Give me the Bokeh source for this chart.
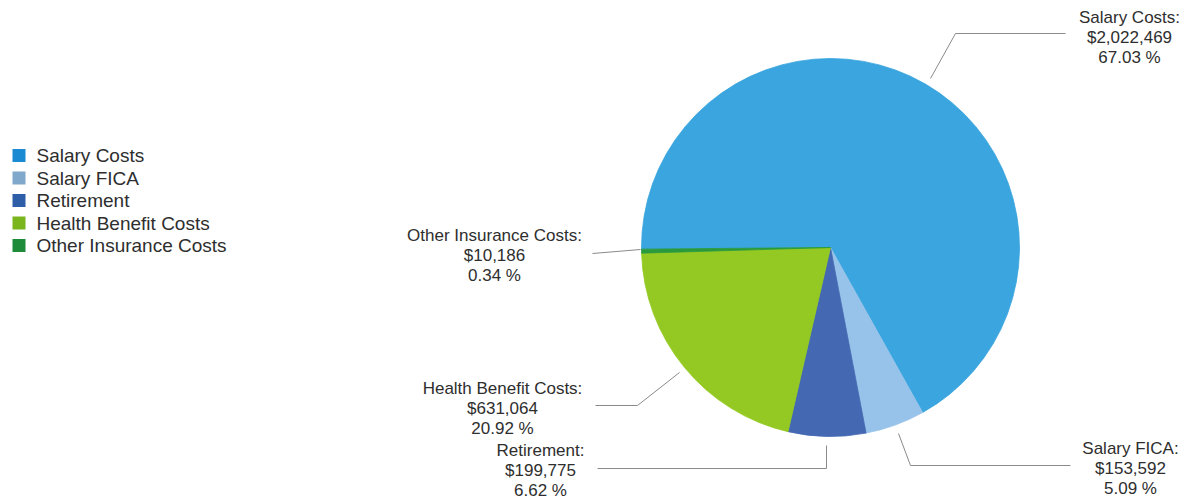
from bokeh.plotting import figure
from bokeh.models import Range1d
from bokeh.core.properties import value
from bokeh.embed import file_html
from bokeh.resources import INLINE

# ---- data ----
categories = ["Salary Costs", "Salary FICA", "Retirement", "Health Benefit Costs", "Other Insurance Costs"]
amounts = [2022469, 153592, 199775, 631064, 10186]

# ---- styles ----
pie_colors = ["#3aa5de", "#97c3ea", "#4468b2", "#93c922", "#2a9a3c"]
legend_colors = ["#1a8bd3", "#7fa8ca", "#2f5ea8", "#7ab51d", "#1e8b3b"]
TXT = "#2e2e2e"
FONT = value("Liberation Sans")

W, H = 1182, 500
CX, CY, R = 830, 247, 189      # pie centre / radius (image px)
START_DEG = 180.5              # first slice starts here, slices run clockwise

# label layout: centre x, first line y (image px)
label_pos = [(1129, 17), (1130, 448), (540, 450), (502, 388), (494, 235)]
LINE_GAP = 20
# leader line polylines (image px)
leaders = [
    [(930, 78), (955, 33), (1065, 33)],
    [(898, 433), (910, 465), (1070, 465)],
    [(826, 445), (826, 468), (597, 468)],
    [(679, 372), (637, 405), (595, 405)],
    [(640, 249), (592, 253)],
]
# legend layout
LEG_X, LEG_Y0, LEG_DY, LEG_SQ = 18.5, 155, 22.5, 13


def Y(y):
    return H - y


p = figure(width=W, height=H, x_range=Range1d(0, W), y_range=Range1d(0, H),
           output_backend="svg", toolbar_location=None, min_border=0,
           outline_line_color=None, background_fill_color="white")
p.axis.visible = False
p.grid.visible = False

total = sum(amounts)
cum = 0.0
starts, ends = [], []
for a in amounts:
    span = a / total * 360.0
    ends.append(START_DEG - cum)
    starts.append(START_DEG - cum - span)
    cum += span

p.wedge(x=[CX] * len(amounts), y=[Y(CY)] * len(amounts), radius=R,
        start_angle=starts, end_angle=ends, start_angle_units="deg", end_angle_units="deg",
        direction="anticlock", fill_color=pie_colors, line_color=pie_colors, line_width=0.8)

# leader lines
for pts in leaders:
    p.line([q[0] for q in pts], [Y(q[1]) for q in pts], line_color="#8a8a8a", line_width=1)

# labels
for cat, amt, (lx, ly) in zip(categories, amounts, label_pos):
    lines = [f"{cat}:", f"${amt:,}", f"{amt / total * 100:.2f} %"]
    p.text(x=[lx] * 3, y=[Y(ly + i * LINE_GAP) for i in range(3)], text=lines,
           text_align="center", text_baseline="middle", text_font=FONT,
           text_font_size="17px", text_color=TXT)

# legend
ys = [Y(LEG_Y0 + i * LEG_DY) for i in range(len(categories))]
p.rect(x=[LEG_X] * len(categories), y=ys, width=LEG_SQ, height=LEG_SQ,
       fill_color=legend_colors, line_color=None)
p.text(x=[36] * len(categories), y=ys, text=categories, text_align="left",
       text_baseline="middle", text_font=FONT, text_font_size="19px", text_color=TXT)

open("out.html", "w").write(file_html(p, INLINE))
